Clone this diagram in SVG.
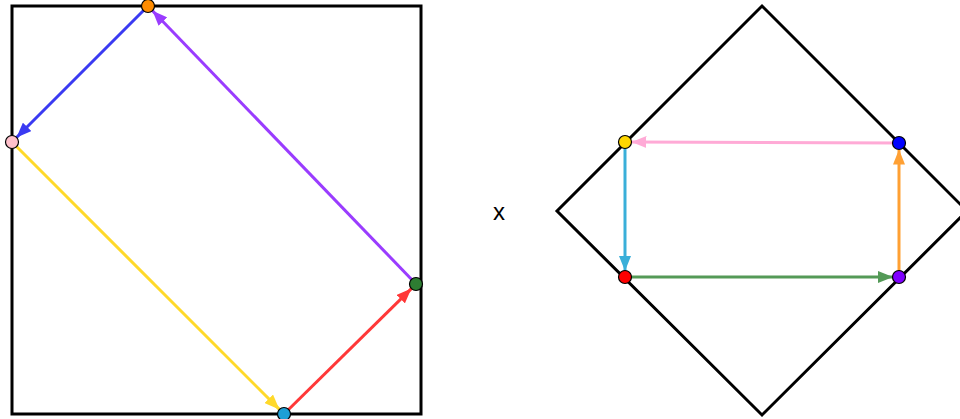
<svg xmlns="http://www.w3.org/2000/svg" width="960" height="419" viewBox="0 0 960 419">
<style>
.frame{fill:none;stroke:#000;stroke-width:3;stroke-linejoin:miter}
.c{fill:none;stroke-width:3}
.dot{stroke:#000;stroke-width:1.2}
.lbl{font-family:"Liberation Sans",Arial,sans-serif;font-size:24px;fill:#000}
</style>
<defs>
<marker id="mBlue" markerUnits="userSpaceOnUse" markerWidth="16" markerHeight="12" refX="15" refY="6" orient="auto"><path d="M0,0 L15,6 L0,12 z" fill="#3a3af2"/></marker>
<marker id="mPurple" markerUnits="userSpaceOnUse" markerWidth="16" markerHeight="12" refX="15" refY="6" orient="auto"><path d="M0,0 L15,6 L0,12 z" fill="#9a3cff"/></marker>
<marker id="mYellow" markerUnits="userSpaceOnUse" markerWidth="16" markerHeight="12" refX="15" refY="6" orient="auto"><path d="M0,0 L15,6 L0,12 z" fill="#ffd92a"/></marker>
<marker id="mRed" markerUnits="userSpaceOnUse" markerWidth="16" markerHeight="12" refX="15" refY="6" orient="auto"><path d="M0,0 L15,6 L0,12 z" fill="#ff3838"/></marker>
<marker id="mPink" markerUnits="userSpaceOnUse" markerWidth="16" markerHeight="12" refX="15" refY="6" orient="auto"><path d="M0,0 L15,6 L0,12 z" fill="#ffaad6"/></marker>
<marker id="mCyan" markerUnits="userSpaceOnUse" markerWidth="16" markerHeight="12" refX="15" refY="6" orient="auto"><path d="M0,0 L15,6 L0,12 z" fill="#3aafd9"/></marker>
<marker id="mGreen" markerUnits="userSpaceOnUse" markerWidth="16" markerHeight="12" refX="15" refY="6" orient="auto"><path d="M0,0 L15,6 L0,12 z" fill="#549a57"/></marker>
<marker id="mOrange" markerUnits="userSpaceOnUse" markerWidth="16" markerHeight="12" refX="15" refY="6" orient="auto"><path d="M0,0 L15,6 L0,12 z" fill="#ffa033"/></marker>
</defs>
<g id="shapes">
<rect class="frame" x="12" y="6" width="409" height="408"/>
<path class="frame" d="M762,6 L967,211 L762,415 L557,211 Z"/>
<text class="lbl" x="499" y="220" text-anchor="middle">x</text>
</g>
<g id="connectors">
<line class="c" stroke="#3a3af2" x1="148" y1="6" x2="16.5" y2="137.5" marker-end="url(#mBlue)"/>
<line class="c" stroke="#9a3cff" x1="416" y1="284" x2="152.5" y2="10.7" marker-end="url(#mPurple)"/>
<line class="c" stroke="#ffd92a" x1="12" y1="142" x2="279.4" y2="409.4" marker-end="url(#mYellow)"/>
<line class="c" stroke="#ff3838" x1="284" y1="414" x2="411.4" y2="288.6" marker-end="url(#mRed)"/>
<line class="c" stroke="#ffaad6" x1="899" y1="143" x2="631.5" y2="142" marker-end="url(#mPink)"/>
<line class="c" stroke="#3aafd9" x1="625" y1="142" x2="625" y2="271" marker-end="url(#mCyan)"/>
<line class="c" stroke="#549a57" x1="625" y1="277" x2="893" y2="277" marker-end="url(#mGreen)"/>
<line class="c" stroke="#ffa033" x1="899" y1="277" x2="899" y2="149.5" marker-end="url(#mOrange)"/>
</g>
<g id="n-orange"><circle class="dot" cx="148" cy="6" r="6.5" fill="#ff8c00"/></g>
<g id="n-pink"><circle class="dot" cx="12" cy="142" r="6.5" fill="#ffc0cb"/></g>
<g id="n-cyan"><circle class="dot" cx="284" cy="414" r="6.5" fill="#1e9fd6"/></g>
<g id="n-green"><circle class="dot" cx="416" cy="284" r="6.5" fill="#2e7d32"/></g>
<g id="n-yellow"><circle class="dot" cx="625" cy="142" r="6.5" fill="#ffd700"/></g>
<g id="n-blue"><circle class="dot" cx="899" cy="143" r="6.5" fill="#0000ff"/></g>
<g id="n-red"><circle class="dot" cx="625" cy="277" r="6.5" fill="#ff0000"/></g>
<g id="n-purple"><circle class="dot" cx="899" cy="277" r="6.5" fill="#7f00ff"/></g>
</svg>
